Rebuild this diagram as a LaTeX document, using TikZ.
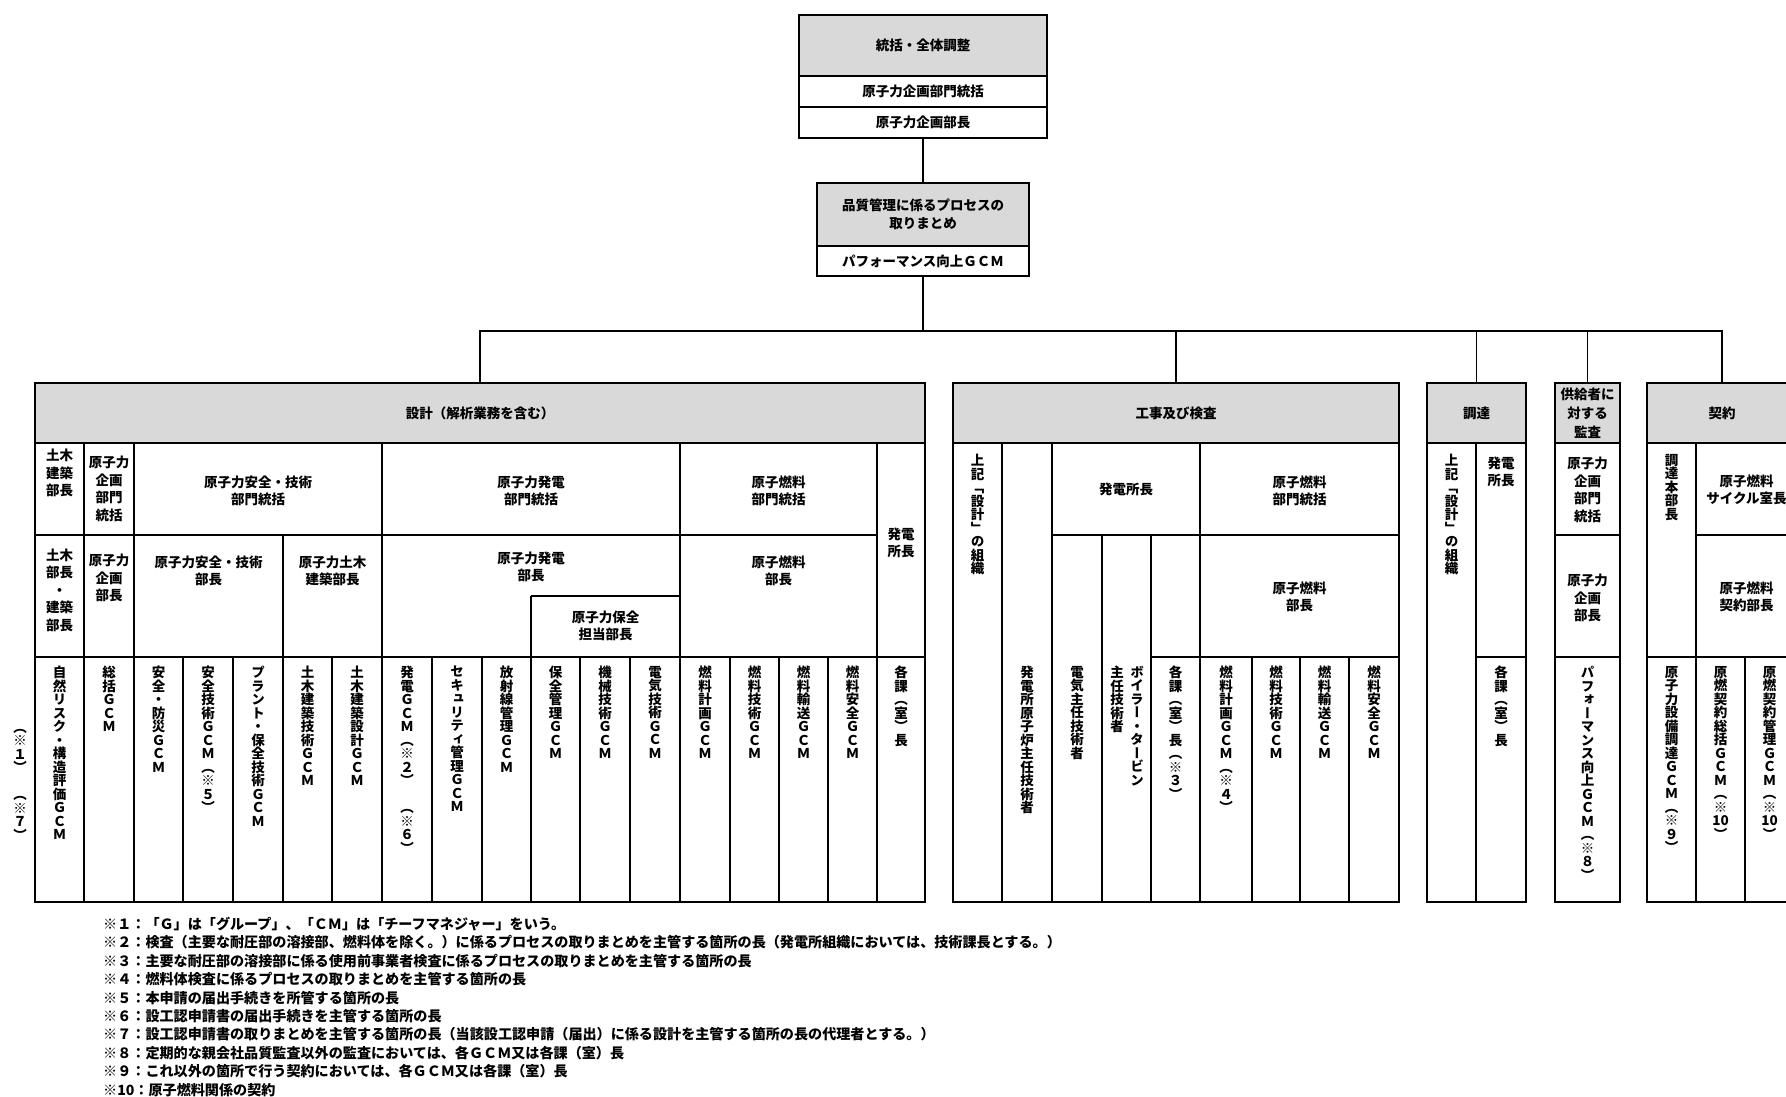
\documentclass[tikz,border=0pt]{standalone}
\usepackage{fontspec}
\setmainfont{Noto Sans CJK JP}
\newfontfamily\tatefont[RawFeature=+vert]{Noto Sans CJK JP}
\usetikzlibrary{positioning}

% 縦書き: 一文字ずつ積む
\ExplSyntaxOn
\NewDocumentCommand \tate { m }
  {
    \vbox
      {
        \tatefont
        \baselineskip = 13.5pt
        \lineskiplimit = -20pt
        \lineskip = 0pt
        \exp_args:No \tl_map_inline:nn {#1}
          { \hbox_to_wd:nn { 14pt } { \hss ##1 \hss } }
      }
  }
\ExplSyntaxOff

\tikzset{
  box/.style={line width=1.8pt},
  grid/.style={line width=1.6pt},
  link/.style={line width=1.6pt},
  cell/.style={draw, line width=1.8pt, inner sep=0pt, outer sep=0pt, align=center},
  hd/.style={cell, fill=gray!30, anchor=north west, minimum height=60pt},
  lbl/.style={inner sep=0pt, align=center},
  vt/.style={inner sep=0pt, anchor=north},
}

\begin{document}
\begin{tikzpicture}[x=1pt, y=-1pt, font=\fontsize{13.5}{17.5}\selectfont\bfseries]
            \useasboundingbox (0,0) rectangle (1786,1097);
            \clip (0,0) rectangle (1786,1097);

            %統括と品質管理の箱
            \node[cell, fill=gray!30, minimum width=248pt, minimum height=61pt] (sum) at (923,45.5) {統括・全体調整};
            \node[cell, minimum width=248pt, minimum height=31pt, below=0pt of sum] (sumdiv) {原子力企画部門統括};
            \node[cell, minimum width=248pt, minimum height=31pt, below=0pt of sumdiv] (sumhead) {原子力企画部長};
            \node[cell, fill=gray!30, minimum width=212pt, minimum height=63pt] (qa) at (923,214.5) {品質管理に係るプロセスの\\取りまとめ};
            \node[cell, minimum width=212pt, minimum height=30pt, below=0pt of qa] (perf) {パフォーマンス向上ＧＣＭ};
            \draw[link] (sumhead) -- (qa);

            %各業務の見出し
            \node[hd, minimum width=890pt] (design) at (35,383) {設計（解析業務を含む）};
            \node[hd, minimum width=446pt] (build) at (953,383) {工事及び検査};
            \node[hd, minimum width=99pt] (procure) at (1427,383) {調達};
            \node[hd, minimum width=65pt, font=\fontsize{13.5}{19}\selectfont\bfseries] (audit) at (1555,383) {供給者に\\対する\\監査};
            \node[hd, minimum width=150pt] (contract) at (1647,383) {契約};

            %接続線
            \coordinate (bus) at (923,331);
            \draw[link] (perf) -- (bus);
            \draw[link] (design.north) |- (bus) -| (contract.north);
            \foreach \s in {build,procure,audit}
                \draw[link] (\s.north) -- (\s.north |- bus);

            %外枠
            \draw[box] (35,383) rectangle (925,902);
            \draw[box] (953,383) rectangle (1399,902);
            \draw[box] (1427,383) rectangle (1526,902);
            \draw[box] (1555,383) rectangle (1620,902);
            \draw[box] (1647,383) rectangle (1797,902);

            %設計の罫線
            \draw[grid] (84,443) -- (84,902) (134,443) -- (134,902) (382,443) -- (382,902)
                (680,443) -- (680,902) (877,443) -- (877,902) (283,535) -- (283,902)
                (35,535) -- (877,535) (35,657) -- (925,657)
                (531,596) -- (680,596) (531,596) -- (531,902);
            \foreach \x in {183,233,332,432,482,580,630,730,779,828}
                \draw[grid] (\x,657) -- (\x,902);

            \node[lbl] (dc1) at (59.5,473) {土木\\建築\\部長};
            \node[lbl] (dc2) at (109,489) {原子力\\企画\\部門\\統括};
            \node[lbl] (dc3) at (258,491) {原子力安全・技術\\部門統括};
            \node[lbl] (dc4) at (531,491) {原子力発電\\部門統括};
            \node[lbl] (dc5) at (778.5,491) {原子燃料\\部門統括};
            \node[lbl] (dc6) at (901,543) {発電\\所長};
            \node[lbl] (dd1) at (59.5,590) {土木\\部長\\・\\建築\\部長};
            \node[lbl] (dd2) at (109,578) {原子力\\企画\\部長};
            \node[lbl] (dd3) at (208.5,571) {原子力安全・技術\\部長};
            \node[lbl] (dd4) at (332.5,571) {原子力土木\\建築部長};
            \node[lbl] (dd5) at (531,567) {原子力発電\\部長};
            \node[lbl] (dd6) at (605.5,626) {原子力保全\\担当部長};
            \node[lbl] (dd7) at (778.5,571) {原子燃料\\部長};

            \foreach \x/\txt [count=\i] in {59.5/自然リスク・構造評価ＧＣＭ,109/総括ＧＣＭ,
                158.5/安全・防災ＧＣＭ,208/安全技術ＧＣＭ（※５）,258/プラント・保全技術ＧＣＭ,
                307.5/土木建築技術ＧＣＭ,357/土木建築設計ＧＣＭ,407/発電ＧＣＭ（※２）　（※６）,
                457/セキュリティ管理ＧＣＭ,506.5/放射線管理ＧＣＭ,555.5/保全管理ＧＣＭ,
                605/機械技術ＧＣＭ,655/電気技術ＧＣＭ,705/燃料計画ＧＣＭ,754.5/燃料技術ＧＣＭ,
                803.5/燃料輸送ＧＣＭ,852.5/燃料安全ＧＣＭ,901/各課（室）長}
                \node[vt] (dg\i) at (\x,666) {\tate{\txt}};
            \node[vt] (mark) at (20,729) {\tate{（※１）　（※７）}};

            %工事及び検査の罫線
            \draw[grid] (1002,443) -- (1002,902) (1052,443) -- (1052,902) (1200,443) -- (1200,902)
                (1102,535) -- (1102,902) (1151,535) -- (1151,902)
                (1052,535) -- (1399,535) (1151,657) -- (1399,657);
            \foreach \x in {1252,1300,1349}
                \draw[grid] (\x,657) -- (\x,902);

            \node[lbl] (bc1) at (1126,489) {発電所長};
            \node[lbl] (bc2) at (1299.5,491) {原子燃料\\部門統括};
            \node[lbl] (bc3) at (1299.5,597) {原子燃料\\部長};
            \node[vt] (bd1) at (977.5,454) {\tate{上記「設計」の組織}};
            \foreach \x/\txt [count=\i] in {1027/発電所原子炉主任技術者,1077/電気主任技術者,
                1137/ボイラー・タービン,1117/主任技術者,1175.5/各課（室）長（※３）,
                1226/燃料計画ＧＣＭ（※４）,1276/燃料技術ＧＣＭ,1324.5/燃料輸送ＧＣＭ,1374/燃料安全ＧＣＭ}
                \node[vt] (bg\i) at (\x,666) {\tate{\txt}};

            %調達と監査
            \draw[grid] (1476,443) -- (1476,902) (1476,657) -- (1526,657);
            \node[vt] (pd1) at (1451.5,454) {\tate{上記「設計」の組織}};
            \node[lbl] (pc1) at (1501,472) {発電\\所長};
            \node[vt] (pg1) at (1501,666) {\tate{各課（室）長}};

            \draw[grid] (1555,535) -- (1620,535) (1555,657) -- (1620,657);
            \node[lbl] (ac1) at (1587.5,490) {原子力\\企画\\部門\\統括};
            \node[lbl] (ac2) at (1587.5,598) {原子力\\企画\\部長};
            \node[vt] (ag1) at (1587.5,666) {\tate{パフォーマンス向上ＧＣＭ（※８）}};

            %契約
            \draw[grid] (1696,443) -- (1696,902) (1696,535) -- (1797,535) (1647,657) -- (1797,657)
                (1745,657) -- (1745,902);
            \node[vt] (cd1) at (1671.5,454) {\tate{調達本部長}};
            \node[lbl] (cc1) at (1746.5,490) {原子燃料\\サイクル室長};
            \node[lbl] (cc2) at (1746.5,597) {原子燃料\\契約部長};
            \node[vt] (cg1) at (1671.5,666) {\tate{原子力設備調達ＧＣＭ（※９）}};
            \node[vt] (cg2) at (1720.5,666) {\tate{原燃契約総括ＧＣＭ（※{10}）}};
            \node[vt] (cg3) at (1769.5,666) {\tate{原燃契約管理ＧＣＭ（※{10}）}};

            %注記
            \node[lbl, anchor=north west, align=left, font=\fontsize{14.1}{18.4}\selectfont\bfseries] (notes) at (103,917) {%
                ※１：「Ｇ」は「グループ」、「ＣＭ」は「チーフマネジャー」をいう。\\
                ※２：検査（主要な耐圧部の溶接部、燃料体を除く。）に係るプロセスの取りまとめを主管する箇所の長（発電所組織においては、技術課長とする。）\\
                ※３：主要な耐圧部の溶接部に係る使用前事業者検査に係るプロセスの取りまとめを主管する箇所の長\\
                ※４：燃料体検査に係るプロセスの取りまとめを主管する箇所の長\\
                ※５：本申請の届出手続きを所管する箇所の長\\
                ※６：設工認申請書の届出手続きを主管する箇所の長\\
                ※７：設工認申請書の取りまとめを主管する箇所の長（当該設工認申請（届出）に係る設計を主管する箇所の長の代理者とする。）\\
                ※８：定期的な親会社品質監査以外の監査においては、各ＧＣＭ又は各課（室）長\\
                ※９：これ以外の箇所で行う契約においては、各ＧＣＭ又は各課（室）長\\
                ※10：原子燃料関係の契約};
        \end{tikzpicture}
\end{document}
